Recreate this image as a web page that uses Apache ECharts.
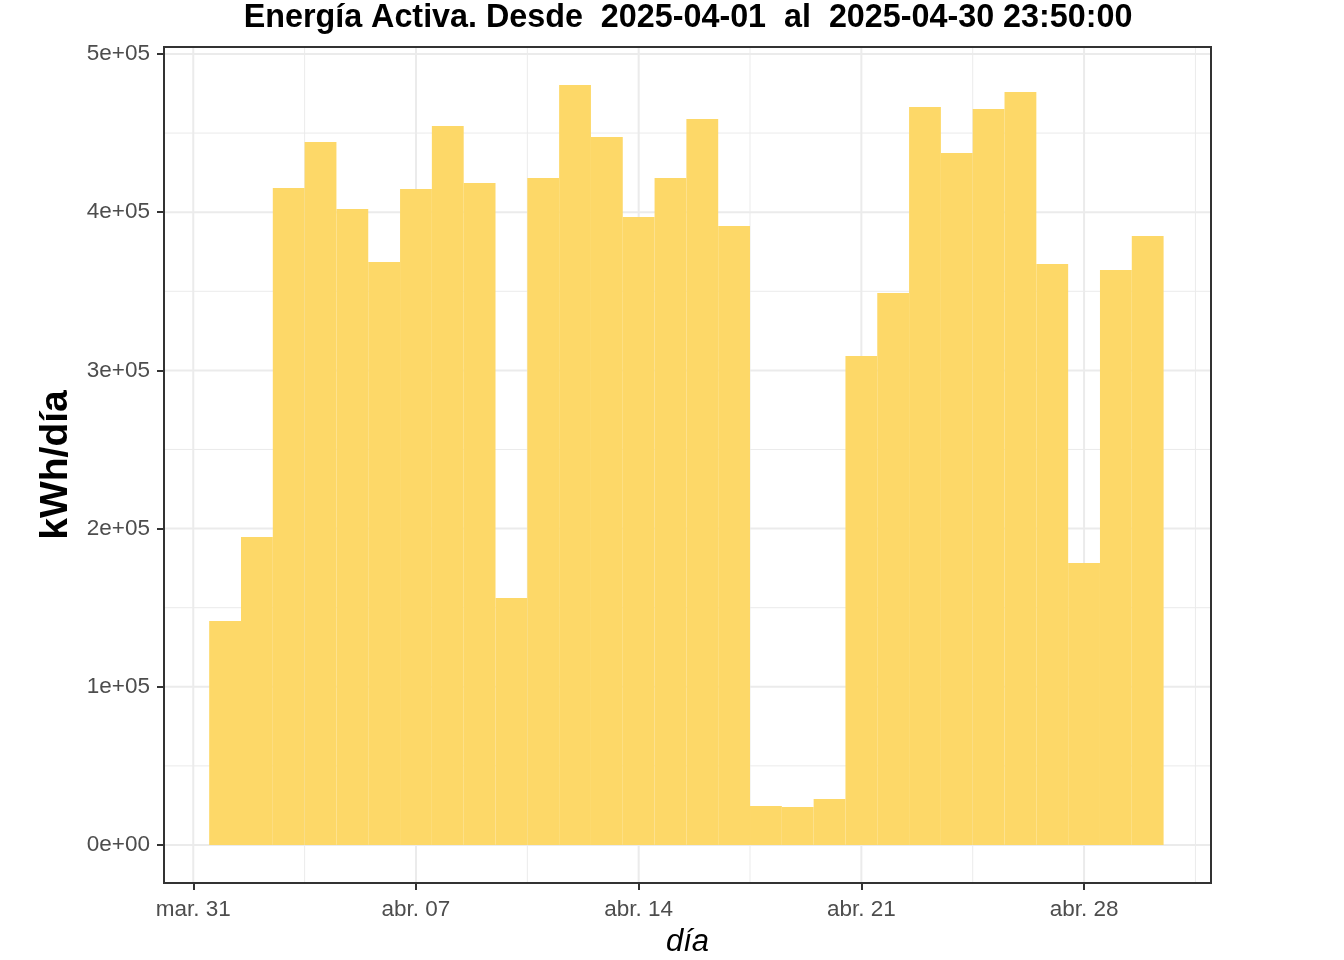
<!DOCTYPE html>
<html>
<head>
<meta charset="utf-8">
<script src="https://cdn.jsdelivr.net/npm/echarts@6/dist/echarts.min.js"></script>
<style>
html,body{margin:0;padding:0;background:#fff;}
#chart{width:1344px;height:960px;}
</style>
</head>
<body>
<div id="chart"></div>
<script>
// ---- data ----
const days = [
  '2025-04-01','2025-04-02','2025-04-03','2025-04-04','2025-04-05','2025-04-06','2025-04-07',
  '2025-04-08','2025-04-09','2025-04-10','2025-04-11','2025-04-12','2025-04-13','2025-04-14',
  '2025-04-15','2025-04-16','2025-04-17','2025-04-18','2025-04-19','2025-04-20','2025-04-21',
  '2025-04-22','2025-04-23','2025-04-24','2025-04-25','2025-04-26','2025-04-27','2025-04-28',
  '2025-04-29','2025-04-30'
];
const energy = [
  141600, 194700, 415300, 444400, 402000, 368500, 414700,
  454500, 418500, 156100, 421600, 480400, 447500, 397000,
  421600, 458900, 391300, 24650, 24000, 29100, 309100,
  348900, 466500, 437400, 465200, 476000, 367300, 178300,
  363500, 385000
];
const originDate = '2025-03-31';
const xTickDays = [0, 7, 14, 21, 28];
const xTickLabels = ['mar. 31', 'abr. 07', 'abr. 14', 'abr. 21', 'abr. 28'];
const xMinorDays = [3.5, 10.5, 17.5, 24.5, 31.5];
const yTickValues = [0, 100000, 200000, 300000, 400000, 500000];
const yTickLabels = ['0e+00', '1e+05', '2e+05', '3e+05', '4e+05', '5e+05'];
const yMinorValues = [50000, 150000, 250000, 350000, 450000];
const titleText = 'Energía Activa. Desde  2025-04-01  al  2025-04-30 23:50:00';
const xName = 'día';
const yName = 'kWh/día';

// ---- build ----
const X_MIN = -0.92, X_MAX = 31.99, Y_MIN = -24020, Y_MAX = 504420;
const DAY = 86400000;
function dayOffset(s){
  const p = s.split('-').map(Number), o = originDate.split('-').map(Number);
  return (Date.UTC(p[0], p[1]-1, p[2]) - Date.UTC(o[0], o[1]-1, o[2])) / DAY;
}
const barData = days.map((d, i) => [dayOffset(d), energy[i]]);

const FONT = 'Liberation Sans, Arial, sans-serif';
const GRID = '#ebebeb';

function vLines(vals){ const d = []; vals.forEach(v => { d.push([v, Y_MIN], [v, Y_MAX], [null, null]); }); return d; }
function hLines(vals){ const d = []; vals.forEach(v => { d.push([X_MIN, v], [X_MAX, v], [null, null]); }); return d; }
function gridSeries(data, width){
  return {type: 'line', data: data, z: 1, silent: true, showSymbol: false, symbol: 'none',
          connectNulls: false, lineStyle: {color: GRID, width: width}, animation: false};
}

const chart = echarts.init(document.getElementById('chart'), null, {renderer: 'canvas'});
chart.setOption({
  backgroundColor: '#ffffff',
  animation: false,
  title: {
    text: titleText,
    left: 683, top: -3, textAlign: 'center',
    textStyle: {fontFamily: FONT, fontSize: 32.3, fontWeight: 'bold', color: '#000'}
  },
  grid: {
    left: 164, right: 133, top: 47, bottom: 77,
    outerBoundsMode: 'none', containLabel: false,
    show: true, borderColor: '#333333', borderWidth: 2, backgroundColor: 'transparent', z: 5
  },
  xAxis: {
    type: 'value',
    min: X_MIN, max: X_MAX,
    name: xName, nameLocation: 'middle', nameGap: 44,
    nameTextStyle: {fontFamily: FONT, fontSize: 31, fontStyle: 'italic', color: '#000'},
    axisLine: {show: false, onZero: false},
    splitLine: {show: false},
    axisTick: {show: true, length: 7, lineStyle: {color: '#333', width: 2}, customValues: xTickDays},
    axisLabel: {
      customValues: xTickDays, margin: 15,
      fontFamily: FONT, fontSize: 22.5, color: '#4d4d4d',
      formatter: v => xTickLabels[xTickDays.indexOf(v)] || ''
    }
  },
  yAxis: {
    type: 'value',
    min: Y_MIN, max: Y_MAX,
    name: yName, nameLocation: 'middle', nameGap: 84, nameRotate: 90,
    nameTextStyle: {fontFamily: FONT, fontSize: 39, fontWeight: 'bold', color: '#000'},
    axisLine: {show: false, onZero: false},
    splitLine: {show: false},
    axisTick: {show: true, length: 7, lineStyle: {color: '#333', width: 2}, customValues: yTickValues},
    axisLabel: {
      customValues: yTickValues, margin: 14, padding: [6, 0, 0, 0],
      fontFamily: FONT, fontSize: 22.5, color: '#4d4d4d',
      formatter: v => yTickLabels[yTickValues.indexOf(v)] || ''
    }
  },
  series: [
    gridSeries(vLines(xMinorDays), 1),
    gridSeries(hLines(yMinorValues), 1),
    gridSeries(vLines(xTickDays), 2),
    gridSeries(hLines(yTickValues), 2),
    {
      type: 'bar', data: barData, z: 3, barWidth: '100%',
      itemStyle: {color: '#FDD868', opacity: 1}, silent: true
    }
  ]
});
</script>
</body>
</html>
